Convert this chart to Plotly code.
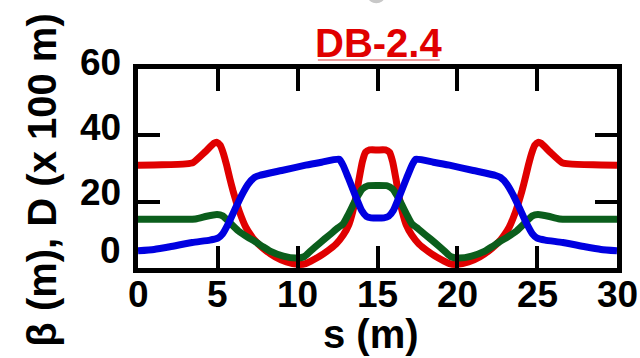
import plotly.graph_objects as go

# Lattice functions over one cell, s in metres
s_bx = [0, 1.5, 3.0, 3.45, 4.2, 4.75, 4.95, 5.15, 5.35, 5.55, 5.75, 5.95, 6.15, 6.35, 6.75, 7.05,
        7.3, 7.85, 8.6, 9.3, 10.0, 10.5, 10.8, 11.4, 11.8, 12.4, 12.85, 13.2, 13.45, 13.65, 13.85,
        14.05, 14.25, 14.5, 15.0, 15.5, 15.75, 15.95, 16.15, 16.35, 16.55, 16.8, 17.15, 17.6, 18.2,
        18.6, 19.2, 19.5, 20.0, 20.7, 21.4, 22.15, 22.7, 22.95, 23.25, 23.65, 23.85, 24.05, 24.25,
        24.45, 24.65, 24.85, 25.05, 25.25, 25.8, 26.55, 27.0, 28.5, 30.0]
beta_x = [31.0, 31.1, 31.4, 31.8, 35.0, 37.6, 37.9, 37.0, 34.5, 31.0, 27.0, 23.3, 20.0, 17.0, 12.3, 10.0,
          8.4, 5.9, 3.3, 1.8, 1.1, 1.3, 2.0, 3.6, 4.9, 7.2, 9.9, 13.0, 17.0, 21.5, 27.0,
          32.0, 34.9, 35.6, 35.6, 35.6, 34.9, 32.0, 27.0, 21.5, 17.0, 13.0, 9.9, 7.2, 4.9,
          3.6, 2.0, 1.3, 1.1, 1.8, 3.3, 5.9, 8.4, 10.0, 12.3, 17.0, 20.0, 23.3, 27.0,
          31.0, 34.5, 37.0, 37.9, 37.6, 35.0, 31.8, 31.4, 31.1, 31.0]

s_d = [0, 3.6, 4.3, 4.95, 5.3, 5.66, 6.28, 6.9, 7.33, 7.8, 8.27, 9.1, 9.9, 10.4, 10.8, 11.4, 12.0,
       12.55, 12.85, 13.18, 13.48, 13.8, 14.05, 14.4, 15.0, 15.6, 15.95, 16.2, 16.52, 16.82, 17.15,
       17.45, 18.0, 18.6, 19.2, 19.6, 20.1, 20.9, 21.73, 22.2, 22.67, 23.1, 23.72, 24.34, 24.7,
       25.05, 25.7, 26.4, 30.0]
disp = [14.7, 14.8, 15.6, 16.1, 15.7, 14.1, 11.2, 9.2, 8.0, 6.5, 5.1, 3.6, 3.0, 3.4, 5.1, 7.6, 10.0,
        12.2, 13.3, 16.2, 19.1, 22.0, 23.8, 24.8, 24.9, 24.8, 23.8, 22.0, 19.1, 16.2, 13.3,
        12.2, 10.0, 7.6, 5.1, 3.4, 3.0, 3.6, 5.1, 6.5, 8.0, 9.2, 11.2, 14.1, 15.7,
        16.1, 15.6, 14.8, 14.7]

s_by = [0, 1.0, 2.0, 3.4, 4.5, 5.0, 5.3, 5.7, 6.1, 6.5, 6.9, 7.3, 7.6, 9.0, 10.5, 11.5, 12.6, 12.85,
        13.17, 13.59, 14.0, 14.3, 14.6, 15.0, 15.4, 15.7, 16.0, 16.41, 16.83, 17.15, 17.4, 18.5,
        19.5, 21.0, 22.4, 22.7, 23.1, 23.5, 23.9, 24.3, 24.7, 25.0, 25.5, 26.6, 28.0, 29.0, 30.0]
beta_y = [5.2, 5.6, 6.4, 7.7, 8.4, 9.0, 10.3, 13.8, 18.0, 22.0, 25.3, 27.3, 27.9, 29.4, 31.0, 31.9, 32.8, 30.9,
          27.2, 22.1, 17.4, 15.6, 15.1, 15.1, 15.1, 15.6, 17.4, 22.1, 27.2, 30.9, 32.8, 31.9,
          31.0, 29.4, 27.9, 27.3, 25.3, 22.0, 18.0, 13.8, 10.3, 9.0, 8.4, 7.7, 6.4, 5.6, 5.2]

x_ticks = [0, 5, 10, 15, 20, 25, 30]
y_ticks = [0, 20, 40, 60]

RED = "#e00000"
GREEN = "#0b5e1c"
BLUE = "#0000e0"
FONT = "Liberation Sans, Arial, sans-serif"
TICK_FONT = dict(family=FONT, size=37, color="black", weight="bold")

# vertical nudge (px) of each y tick label above its tick
y_label_lift = {0: 18, 20: 9, 40: 8, 60: 7}

fig = go.Figure()
for xs, ys, col in [(s_bx, beta_x, RED), (s_d, disp, GREEN), (s_by, beta_y, BLUE)]:
    fig.add_trace(go.Scatter(x=xs, y=ys, mode="lines",
                             line=dict(color=col, width=7, shape="spline", smoothing=0.5),
                             showlegend=False))

axis_common = dict(showline=True, linecolor="black", linewidth=5, mirror="ticks",
                   ticks="inside", ticklen=22, tickwidth=3.5, tickcolor="black",
                   showgrid=False, zeroline=False, showticklabels=False)

fig.update_xaxes(range=[0, 30], tickvals=x_ticks, **axis_common)
fig.update_yaxes(range=[0, 60], tickvals=y_ticks, **axis_common)

# tick labels
for v in x_ticks:
    fig.add_annotation(text=str(v), x=v, xref="x", y=0, yref="paper", yshift=-26,
                       xanchor="center", yanchor="middle", showarrow=False, font=TICK_FONT)
for v in y_ticks:
    fig.add_annotation(text=str(v), x=0, xref="paper", xshift=-15, y=v, yref="y",
                       yshift=y_label_lift[v], xanchor="right", yanchor="middle",
                       showarrow=False, font=TICK_FONT)

# title with a thin underline
fig.add_annotation(text="DB-2.4", xref="paper", yref="paper", x=0.503, y=1.1327,
                   xanchor="center", yanchor="middle", showarrow=False,
                   font=dict(family=FONT, size=40, color=RED, weight="bold"))
fig.add_shape(type="line", xref="paper", yref="paper", x0=0.3755, x1=0.630, y0=1.0447, y1=1.0447,
              line=dict(color="#e87878", width=1.5))

# small grey mark at the top edge
fig.add_shape(type="circle", xref="paper", yref="paper", x0=0.480, x1=0.515, y0=1.33, y1=1.40,
              line=dict(width=0), fillcolor="#c8c8c8")

fig.add_annotation(text="s (m)", xref="paper", yref="paper", x=0.4864, y=-0.33,
                   xanchor="center", yanchor="middle", showarrow=False,
                   font=dict(family=FONT, size=40, color="black", weight="bold"))
fig.add_annotation(text="β (m), D (x 100 m)", xref="paper", yref="paper", x=-0.2004, y=0.439,
                   xanchor="center", yanchor="middle", textangle=-90, showarrow=False,
                   font=dict(family=FONT, size=40, color="black", weight="bold"))

fig.update_layout(width=640, height=358, margin=dict(l=138, r=23, t=69, b=90),
                  paper_bgcolor="white", plot_bgcolor="white")

fig.write_html("out.html")
